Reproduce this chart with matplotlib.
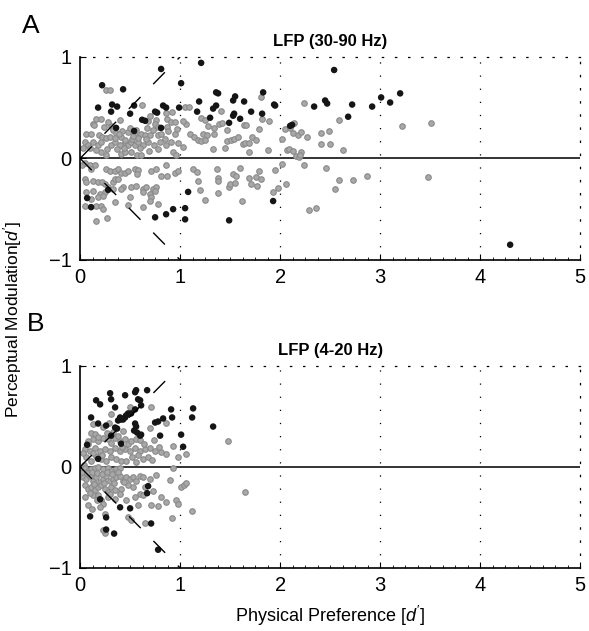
import matplotlib
matplotlib.use("Agg")
import matplotlib.pyplot as plt
from matplotlib.ticker import MultipleLocator

plt.rcParams['font.family'] = ['Liberation Sans', 'DejaVu Sans']
plt.rcParams['mathtext.fontset'] = 'custom'
plt.rcParams['mathtext.it'] = 'Liberation Sans:italic'
plt.rcParams['mathtext.rm'] = 'Liberation Sans'

# panel A, LFP 30-90 Hz: non-significant sites (gray)
gray_a = [
    (0.26, 0.67), (0.30, 0.67), (0.62, 0.53), (0.16, 0.39), (0.21, 0.39), (0.13, 0.34), (0.14, 0.33),
    (0.31, 0.32), (0.40, 0.38), (0.68, 0.37), (0.76, 0.38), (0.75, 0.34), (0.87, 0.39), (0.91, 0.36),
    (0.95, 0.36), (0.78, 0.31), (0.87, 0.31), (0.73, 0.28), (0.67, 0.30), (0.06, 0.24), (0.11, 0.24),
    (0.19, 0.23), (0.22, 0.21), (0.26, 0.20), (0.30, 0.21), (0.41, 0.21), (0.48, 0.26), (0.55, 0.23),
    (0.61, 0.24), (0.65, 0.23), (0.70, 0.23), (0.78, 0.23), (0.81, 0.24), (0.85, 0.19), (0.95, 0.24),
    (1.05, 0.51), (1.06, 0.34),
    (0.05, 0.16), (0.08, 0.13), (0.13, 0.16), (0.18, 0.13), (0.21, 0.16), (0.31, 0.13), (0.35, 0.16),
    (0.40, 0.13), (0.45, 0.16), (0.48, 0.13), (0.51, 0.16), (0.55, 0.13), (0.58, 0.16), (0.63, 0.13),
    (0.68, 0.16), (0.74, 0.13), (0.80, 0.16), (0.86, 0.13), (0.91, 0.16), (0.98, 0.15),
    (0.21, 0.06), (0.26, 0.03), (0.41, 0.04), (0.45, 0.06), (0.51, 0.06), (0.57, 0.03), (0.61, 0.03),
    (0.69, 0.07), (0.78, 0.09), (0.93, 0.06), (0.96, 0.03),
    (0.33, 0.28), (0.36, 0.25), (0.42, 0.27), (0.45, 0.18), (0.52, 0.19), (0.58, 0.20), (0.60, 0.10),
    (0.44, 0.10), (0.37, 0.09), (0.27, 0.09), (0.16, 0.08), (0.10, 0.10), (0.03, 0.10), (0.66, 0.19),
    (0.50, 0.30), (0.56, 0.28), (0.70, 0.42), (0.86, 0.45), (0.92, 0.46), (0.24, 0.31), (0.28, 0.36),
    (0.35, 0.20), (0.39, 0.24), (0.53, 0.22), (0.88, 0.27), (0.97, 0.29), (1.03, 0.37), (1.09, 0.51),
    (1.10, 0.24), (1.14, 0.21), (1.18, 0.18), (1.03, 0.11), (0.02, -0.07),
    (0.05, -0.05), (0.10, -0.07), (0.15, -0.07), (0.11, -0.10), (0.26, -0.10), (0.30, -0.12),
    (0.35, -0.12), (0.38, -0.10), (0.41, -0.14), (0.45, -0.14), (0.48, -0.12), (0.55, -0.10),
    (0.58, -0.11), (0.57, -0.15), (0.71, -0.12), (0.76, -0.10), (0.86, -0.07), (0.81, -0.17),
    (0.87, -0.17), (0.95, -0.14), (0.98, -0.12), (0.05, -0.20), (0.06, -0.23), (0.13, -0.22),
    (0.18, -0.23), (0.22, -0.23), (0.25, -0.25), (0.33, -0.23), (0.35, -0.20), (0.38, -0.20),
    (0.43, -0.28), (0.41, -0.30), (0.51, -0.28), (0.56, -0.27), (0.63, -0.30), (0.66, -0.28),
    (0.73, -0.30), (0.76, -0.28), (0.06, -0.33), (0.13, -0.32), (0.20, -0.35), (0.25, -0.33),
    (0.28, -0.28), (0.33, -0.30), (0.63, -0.33), (0.70, -0.35), (0.71, -0.38), (0.75, -0.32),
    (0.11, -0.40), (0.18, -0.38), (0.23, -0.37), (0.35, -0.43), (0.50, -0.38), (0.70, -0.42),
    (0.78, -0.45), (0.05, -0.47), (0.16, -0.47), (0.21, -0.47), (0.23, -0.50), (0.48, -0.46),
    (0.63, -0.48), (0.16, -0.62), (0.27, -0.59),
    (1.13, -0.10), (1.17, -0.13), (1.18, -0.22), (1.20, -0.31),
    (1.21, 0.40), (1.25, 0.38), (1.28, 0.32), (1.23, 0.24), (1.27, 0.23), (1.21, 0.17), (1.25, 0.18),
    (1.34, 0.30), (1.39, 0.34), (1.41, 0.47), (1.42, 0.35), (1.47, 0.28), (1.34, 0.24), (1.47, 0.17),
    (1.51, 0.18), (1.54, 0.19), (1.58, 0.21), (1.33, 0.09), (1.45, 0.10), (1.63, 0.14), (1.65, 0.15),
    (1.69, 0.15), (1.69, 0.06), (1.72, 0.21), (1.76, 0.18), (1.79, 0.29), (1.81, 0.60), (1.82, 0.39),
    (1.89, 0.37), (1.64, 0.33), (1.66, 0.33), (1.88, 0.08), (2.02, 0.19), (2.05, 0.29), (2.10, 0.30),
    (2.07, 0.08), (2.09, 0.09), (2.13, 0.07), (2.14, 0.35), (2.13, 0.25), (2.18, 0.23), (2.21, 0.26),
    (2.21, 0.06), (2.16, 0.02), (2.19, 0.01), (2.20, 0.03), (2.27, 0.21), (2.24, 0.55), (2.41, 0.25),
    (2.49, 0.27), (2.41, 0.14), (2.50, 0.14), (2.59, 0.38), (2.63, 0.08),
    (1.37, -0.10), (1.38, -0.19), (1.38, -0.22), (1.38, -0.34), (1.25, -0.41), (1.49, -0.28),
    (1.50, -0.25), (1.53, -0.15), (1.56, -0.17), (1.55, -0.24), (1.60, -0.09), (1.62, -0.42),
    (1.69, -0.19), (1.71, -0.25), (1.77, -0.27), (1.76, -0.18), (1.79, -0.12), (1.81, -0.20),
    (1.93, -0.33), (1.98, -0.29), (1.95, -0.11), (2.02, -0.06), (2.06, -0.25), (2.24, -0.07),
    (2.46, -0.09), (2.55, -0.30), (2.59, -0.21), (2.73, -0.21), (2.87, -0.17), (2.29, -0.51),
    (2.36, -0.49), (3.22, 0.32), (3.51, 0.35), (3.48, -0.18),
]

# panel A: significant sites (black)
black_a = [
    (0.81, 0.88), (1.21, 0.94), (1.01, 0.74), (0.22, 0.72), (0.43, 0.68), (0.18, 0.50), (0.32, 0.53),
    (0.37, 0.51), (0.31, 0.46), (0.54, 0.52), (0.50, 0.44), (0.62, 0.38), (0.65, 0.37), (0.75, 0.46),
    (0.77, 0.45), (0.83, 0.52), (0.86, 0.50), (0.99, 0.50), (0.36, 0.30), (0.54, 0.27), (0.81, 0.30),
    (1.19, 0.56), (1.17, 0.46), (1.36, 0.65), (1.38, 0.64), (1.33, 0.49), (1.36, 0.52), (1.30, 0.40),
    (1.53, 0.57), (1.55, 0.61), (1.54, 0.44), (1.60, 0.39), (1.49, 0.35), (1.71, 0.46), (1.08, -0.33),
    (1.05, -0.49), (1.05, -0.60), (0.93, -0.50), (0.86, -0.55), (0.75, -0.58), (1.49, -0.61),
    (0.07, -0.39), (0.11, -0.48), (0.28, -0.31), (2.54, 0.87), (3.20, 0.64), (3.01, 0.60), (3.10, 0.55),
    (2.45, 0.57), (2.47, 0.54), (2.34, 0.51), (2.72, 0.53), (2.92, 0.51), (2.68, 0.41), (2.10, 0.32),
    (2.12, 0.33), (1.94, 0.53), (1.95, 0.52), (1.83, 0.65), (1.82, 0.44), (1.64, 0.56), (1.53, 0.42),
    (1.93, -0.42), (4.30, -0.85),
]

# panel B, LFP 4-20 Hz
gray_b = [
    (0.50, 0.59), (0.71, 0.59), (0.70, 0.39), (0.86, 0.44), (0.31, 0.52), (0.29, 0.44), (0.13, 0.43),
    (0.23, 0.40), (0.11, 0.34), (0.15, 0.33),
    (0.08, 0.23), (0.13, 0.28), (0.18, 0.26), (0.23, 0.29), (0.28, 0.28), (0.31, 0.24), (0.35, 0.29),
    (0.40, 0.26), (0.45, 0.28), (0.48, 0.23), (0.51, 0.26), (0.56, 0.28),
    (0.05, 0.18), (0.10, 0.16), (0.15, 0.19), (0.20, 0.16), (0.25, 0.18), (0.30, 0.16), (0.35, 0.19),
    (0.40, 0.16), (0.45, 0.18), (0.50, 0.16), (0.55, 0.19), (0.60, 0.16), (0.65, 0.18), (0.70, 0.19),
    (0.75, 0.16), (0.81, 0.15), (0.86, 0.13), (0.93, 0.21),
    (0.06, 0.10), (0.11, 0.06), (0.16, 0.11), (0.21, 0.08), (0.26, 0.06), (0.31, 0.10), (0.36, 0.08),
    (0.41, 0.06), (0.46, 0.06), (0.56, 0.05), (0.63, 0.08), (0.68, 0.10), (0.98, 0.10), (1.06, 0.13),
    (0.79, 0.20), (1.48, 0.26), (0.04, 0.02), (0.33, 0.35), (0.27, 0.34), (0.43, 0.36), (0.38, 0.31),
    (0.18, 0.30), (0.60, 0.27), (0.64, 0.23), (0.22, 0.12), (0.13, 0.14), (0.08, 0.26), (0.42, 0.20),
    (0.52, 0.10), (0.58, 0.12), (0.74, 0.27), (0.72, 0.07), (0.03, 0.14),
    (0.05, -0.01), (0.08, -0.04), (0.11, -0.02), (0.15, -0.01), (0.18, 0.00), (0.23, -0.02),
    (0.28, -0.01), (0.31, -0.04), (0.36, -0.02), (0.40, -0.01), (0.93, -0.01),
    (0.03, -0.10), (0.06, -0.12), (0.10, -0.085), (0.13, -0.135), (0.16, -0.10), (0.20, -0.15),
    (0.23, -0.12), (0.26, -0.085), (0.30, -0.135), (0.33, -0.12), (0.36, -0.10), (0.40, -0.085),
    (0.43, -0.135), (0.46, -0.10), (0.50, -0.12), (0.53, -0.10), (0.60, -0.085), (0.63, -0.10),
    (0.05, -0.18), (0.08, -0.22), (0.11, -0.20), (0.15, -0.23), (0.18, -0.20), (0.21, -0.18),
    (0.25, -0.22), (0.28, -0.25), (0.31, -0.20), (0.35, -0.23), (0.41, -0.22), (0.48, -0.18),
    (0.53, -0.20), (0.60, -0.27), (0.65, -0.20),
    (0.05, -0.30), (0.13, -0.28), (0.18, -0.28), (0.21, -0.33), (0.23, -0.37), (0.28, -0.30),
    (0.35, -0.32), (0.46, -0.33), (0.55, -0.30), (0.63, -0.28), (0.71, -0.38), (0.78, -0.39),
    (0.86, -0.35), (0.81, -0.30), (0.96, -0.33), (0.98, -0.37), (0.92, -0.51), (0.90, -0.13),
    (1.01, -0.20), (1.04, -0.18), (1.06, -0.16),
    (0.08, -0.38), (0.20, -0.40), (0.25, -0.47), (0.48, -0.50), (0.51, -0.53), (0.65, -0.56),
    (0.25, -0.65), (0.23, -0.62), (1.12, -0.44), (1.65, -0.25),
    (0.02, -0.05), (0.07, -0.06), (0.12, -0.05), (0.17, -0.06), (0.22, -0.07), (0.27, -0.05),
    (0.32, -0.07), (0.38, -0.05), (0.14, -0.17), (0.24, -0.16), (0.34, -0.16), (0.44, -0.15),
    (0.56, -0.14), (0.70, -0.12), (0.76, -0.08), (0.10, -0.26), (0.30, -0.27), (0.40, -0.27),
    (0.17, -0.33), (0.12, -0.42), (0.58, -0.38), (0.73, -0.24),
]

black_b = [
    (0.67, 0.76), (0.56, 0.76), (0.55, 0.74), (0.45, 0.71), (0.30, 0.73), (0.16, 0.66), (0.20, 0.62),
    (0.31, 0.67), (0.35, 0.59), (0.58, 0.67), (0.60, 0.66), (0.61, 0.61), (0.55, 0.57), (0.51, 0.53),
    (0.48, 0.53), (0.46, 0.51), (0.45, 0.49), (0.40, 0.49), (0.41, 0.47), (0.43, 0.47), (0.38, 0.46),
    (0.11, 0.49), (0.18, 0.43), (0.26, 0.41), (0.35, 0.39), (0.37, 0.38), (0.31, 0.31), (0.55, 0.43),
    (0.56, 0.40), (0.54, 0.36), (0.57, 0.34), (0.60, 0.31), (0.61, 0.32), (0.75, 0.44), (0.78, 0.45),
    (0.83, 0.48), (0.91, 0.57), (0.92, 0.49), (0.80, 0.31), (1.01, 0.32), (0.41, 0.23), (1.03, 0.20),
    (0.18, 0.08), (0.07, 0.22), (1.13, 0.58), (1.12, 0.49), (1.33, 0.40), (0.68, -0.19), (0.67, -0.26),
    (0.20, -0.32), (0.40, -0.40), (0.50, -0.41), (0.10, -0.49), (0.26, -0.50), (0.71, -0.56),
    (0.26, -0.62), (0.34, -0.66), (0.78, -0.82),
]

titles = ["LFP (30-90 Hz)", "LFP (4-20 Hz)"]
letters = ["A", "B"]

fig = plt.figure(figsize=(5.89, 6.31), dpi=100)
ax_a = fig.add_axes([0.136, 0.588, 0.849, 0.322])
ax_b = fig.add_axes([0.136, 0.100, 0.849, 0.320])

dots = (0, (1, 9.5))
for ax, gray, black, title in zip([ax_a, ax_b], [gray_a, gray_b], [black_a, black_b], titles):
    gx, gy = zip(*gray)
    bx, by = zip(*black)
    ax.scatter(gx, gy, s=16, facecolor='#a8a8a8', edgecolor='#8a8a8a', linewidths=0.8, zorder=2)
    ax.scatter(bx, by, s=22, color='#151515', edgecolor='none', zorder=3)
    ax.axhline(0, color='#333333', lw=1.4, zorder=1)
    ax.plot([0, 1], [0, 1], color='black', lw=1.0, dashes=(12, 13), zorder=4)
    ax.plot([0, 1], [0, -1], color='black', lw=1.0, dashes=(12, 13), zorder=4)
    for gxl in [1, 2, 3, 4]:
        ax.axvline(gxl, color='black', lw=0.9, linestyle=dots, zorder=1)
    ax.set_xlim(0, 5)
    ax.set_ylim(-1, 1)
    ax.set_xticks([0, 1, 2, 3, 4, 5])
    ax.set_yticks([-1, 0, 1])
    ax.xaxis.set_minor_locator(MultipleLocator(0.125))
    ax.tick_params(axis='both', which='major', direction='in', length=4, labelsize=14.5, pad=6)
    ax.tick_params(axis='x', which='minor', direction='in', length=2)
    for side in ['top', 'right']:
        ax.spines[side].set_linestyle(dots)
        ax.spines[side].set_linewidth(0.9)
    ax.spines['left'].set_linewidth(1.2)
    ax.spines['bottom'].set_linewidth(1.2)
    ax.set_title(title, fontsize=12, fontweight='bold', pad=8)

fig.text(0.038, 0.978, letters[0], fontsize=19, va='top')
fig.text(0.046, 0.505, letters[1], fontsize=19, va='top')
fig.text(0.021, 0.493, r"Perceptual Modulation[$\mathit{d'}$]", rotation=90, fontsize=12.5,
         va='center', ha='center')
ax_b.set_xlabel(r"Physical Preference [$\mathit{d'}$]", fontsize=13, labelpad=6)

plt.savefig('out.png', dpi=100)
